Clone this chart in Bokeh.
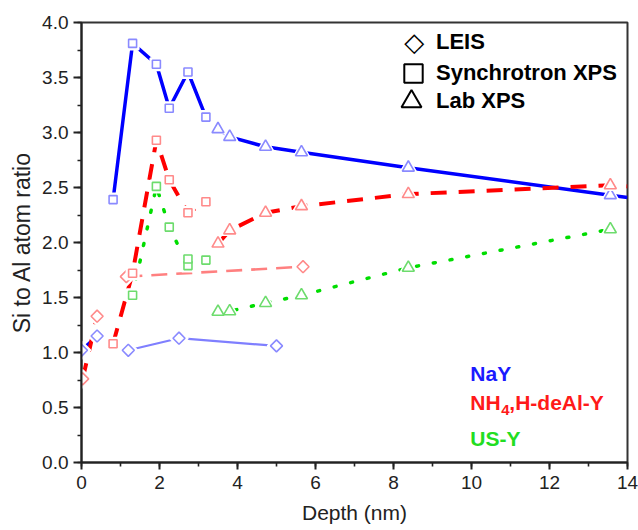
import math
from bokeh.plotting import figure
from bokeh.layouts import row
from bokeh.models import (Label, Legend, LegendItem, SingleIntervalTicker,
                          PrintfTickFormatter, Range1d, Spacer)
from bokeh.embed import file_html
from bokeh.resources import INLINE

# ---------------- data ----------------
# NaY
nay_leis1_x = [0.0, 0.4]
nay_leis1_y = [1.02, 1.15]
nay_leis2_x = [1.2, 2.5, 5.0]
nay_leis2_y = [1.02, 1.13, 1.06]
nay_sxps_x = [0.81, 1.31, 1.92, 2.25, 2.73, 3.19]
nay_sxps_y = [2.39, 3.81, 3.62, 3.22, 3.55, 3.14]
nay_lxps_x = [3.5, 3.8, 4.72, 5.64, 8.38, 13.56]
nay_lxps_y = [3.03, 2.96, 2.87, 2.82, 2.68, 2.43]
nay_line_end_x = [14.0]
nay_line_end_y = [2.41]

# NH4,H-deAl-Y
nh4_leis1_x = [0.03, 0.4]
nh4_leis1_y = [0.76, 1.33]
nh4_leis2_x = [1.15, 5.68]
nh4_leis2_y = [1.69, 1.78]
nh4_sxps_x = [0.81, 1.31, 1.92, 2.25, 2.73, 3.19]
nh4_sxps_y = [1.08, 1.72, 2.93, 2.57, 2.27, 2.37]
nh4_lxps_x = [3.5, 3.8, 4.72, 5.64, 8.38, 13.56]
nh4_lxps_y = [1.99, 2.11, 2.27, 2.33, 2.44, 2.52]
nh4_line_end_x = [14.0]
nh4_line_end_y = [2.51]

# US-Y
usy_sxps_x = [1.31, 1.92, 2.25, 2.73, 2.73, 3.19]
usy_sxps_y = [1.52, 2.51, 2.14, 1.79, 1.85, 1.84]
usy_lxps_x = [3.5, 3.8, 4.72, 5.64, 8.38, 13.56]
usy_lxps_y = [1.37, 1.375, 1.45, 1.52, 1.77, 2.12]

x_ticks_interval = 2
y_ticks_interval = 0.5

FONT = "Liberation Sans"

BLUE = "#0000ff"
RED = "#ff0000"
GREEN = "#00dd00"
LBLUE = "#7f7fff"
LRED = "#ff8080"
MBLUE = "#8a8aff"
MRED = "#ff8a8a"
MGREEN = "#6ddc6d"

p = figure(width=632, height=528, output_backend="svg", toolbar_location=None,
           x_range=Range1d(0, 14), y_range=Range1d(0, 4.0),
           min_border_left=75, min_border_right=11, min_border_top=22,
           min_border_bottom=66)
p.grid.visible = False
p.background_fill_color = "white"
p.border_fill_color = "white"
p.outline_line_color = "#333333"
p.outline_line_width = 2

# ---------------- lines ----------------
# NaY
p.line(nay_leis1_x, nay_leis1_y, line_color=BLUE, line_width=3.5)
p.line(nay_leis2_x, nay_leis2_y, line_color=LBLUE, line_width=2.2)
p.line(nay_sxps_x, nay_sxps_y, line_color=BLUE, line_width=3.5)
p.line(nay_lxps_x + nay_line_end_x, nay_lxps_y + nay_line_end_y,
       line_color=BLUE, line_width=3.5)
# NH4
p.line(nh4_leis1_x, nh4_leis1_y, line_color=RED, line_width=4, line_dash="16 12")
p.line(nh4_leis2_x, nh4_leis2_y, line_color=LRED, line_width=2.6, line_dash="16 9")
p.line(nh4_sxps_x, nh4_sxps_y, line_color=RED, line_width=4, line_dash="16 12")
p.line(nh4_lxps_x + nh4_line_end_x, nh4_lxps_y + nh4_line_end_y,
       line_color=RED, line_width=4, line_dash="16 12")
# US-Y
p.line(usy_sxps_x, usy_sxps_y, line_color=GREEN, line_width=3.5,
       line_dash="2 15", line_cap="round")
p.line(usy_lxps_x, usy_lxps_y, line_color=GREEN, line_width=3.5,
       line_dash="2 15", line_cap="round")

# ---------------- markers ----------------
DIAM_ANGLE = math.pi / 4


def markers(xs, ys, marker, color, size, angle=0.0):
    # white halo so that the lines stop short of the symbols
    p.scatter(xs, ys, marker=marker, size=size + 4, angle=angle,
              fill_color="white", line_color="white", line_width=2)
    p.scatter(xs, ys, marker=marker, size=size, angle=angle,
              fill_color="white", line_color=color, line_width=1.6)


markers(nay_leis1_x, nay_leis1_y, "square", MBLUE, 8.5, DIAM_ANGLE)
markers(nay_leis2_x, nay_leis2_y, "square", MBLUE, 8.5, DIAM_ANGLE)
markers(nh4_leis1_x, nh4_leis1_y, "square", MRED, 8.5, DIAM_ANGLE)
markers(nh4_leis2_x, nh4_leis2_y, "square", MRED, 8.5, DIAM_ANGLE)

markers(nay_sxps_x, nay_sxps_y, "square", MBLUE, 8)
markers(nh4_sxps_x, nh4_sxps_y, "square", MRED, 8)
markers(usy_sxps_x, usy_sxps_y, "square", MGREEN, 8)

markers(nay_lxps_x, nay_lxps_y, "triangle", MBLUE, 12)
markers(nh4_lxps_x, nh4_lxps_y, "triangle", MRED, 12)
markers(usy_lxps_x, usy_lxps_y, "triangle", MGREEN, 12)

# ---------------- axes ----------------
xa = p.xaxis[0]
ya = p.yaxis[0]
xa.ticker = SingleIntervalTicker(interval=x_ticks_interval, num_minor_ticks=2)
ya.ticker = SingleIntervalTicker(interval=y_ticks_interval, num_minor_ticks=2)
ya.formatter = PrintfTickFormatter(format="%.1f")

for ax in (xa, ya):
    ax.axis_line_color = "#222222"
    ax.axis_line_width = 2
    ax.major_tick_line_color = "#222222"
    ax.major_tick_line_width = 2
    ax.minor_tick_line_color = "#222222"
    ax.minor_tick_line_width = 1.6
    ax.major_tick_in = 0
    ax.minor_tick_in = 0
    ax.major_label_text_font = FONT
    ax.major_label_text_font_size = "19px"
    ax.major_label_text_color = "#222222"
    ax.axis_label_text_font = FONT
    ax.axis_label_text_font_style = "normal"
    ax.axis_label_text_color = "#222222"

xa.major_tick_out = 7
xa.minor_tick_out = 4
xa.major_label_standoff = 6
xa.axis_label = "Depth (nm)"
xa.axis_label_text_font_size = "21px"
xa.axis_label_standoff = 9

ya.major_tick_out = 8
ya.minor_tick_out = 4
ya.major_label_standoff = 5
ya.axis_label = "Si to Al atom ratio"
ya.axis_label_text_font_size = "23px"
ya.axis_label_standoff = 4

# ---------------- symbol legend (black hollow symbols) ----------------
# The legend renderers hold a single NaN point, so nothing of them is drawn
# in the plot; they only provide the black legend symbols.
NAN = float("nan")
# (label, marker, glyph box, left offset, bottom offset, standoff)
leg_specs = [
    ("LEIS", None, 36, 316, 402, 3),
    ("Synchrotron XPS", "square", 46, 309, 366, 0),
    ("Lab XPS", "triangle", 50, 305, 336, 0),
]
for label, marker, gsize, lx, ly, standoff in leg_specs:
    if marker is None:
        # the diamond symbol is drawn as a text glyph below
        r = p.scatter(x=[], y=[], marker="square", fill_color=None,
                      line_color="black", line_width=2)
    else:
        r = p.scatter(x=[NAN], y=[NAN], marker=marker,
                      fill_color=None, line_color="black", line_width=2)
    leg = Legend(items=[LegendItem(label=label, renderers=[r])],
                 location=(lx, ly), glyph_width=gsize, glyph_height=gsize,
                 label_standoff=standoff, padding=0, margin=0, spacing=0,
                 border_line_color=None, background_fill_alpha=0,
                 label_text_font=FONT, label_text_font_style="bold",
                 label_text_font_size="22px", label_text_color="black")
    p.add_layout(leg)

p.add_layout(Label(x=8.53, y=3.82, text="\u25c7", text_align="center",
                   text_baseline="middle", text_font="DejaVu Sans",
                   text_font_style="bold", text_font_size="26px",
                   text_color="black"))

# ---------------- sample labels ----------------
lab_kw = dict(text_font=FONT, text_font_style="bold", text_baseline="middle",
              text_align="left")
p.add_layout(Label(x=9.97, y=0.81, text="NaY", text_color="#1a1aff",
                   text_font_size="21px", **lab_kw))
p.add_layout(Label(x=9.97, y=0.55, text="NH", text_color="#ff1a1a",
                   text_font_size="21px", **lab_kw))
p.add_layout(Label(x=9.97, y=0.55, x_offset=31, y_offset=-8, text="4",
                   text_color="#ff1a1a", text_font_size="15px", **lab_kw))
p.add_layout(Label(x=9.97, y=0.55, x_offset=39, text=",H-deAl-Y",
                   text_color="#ff1a1a", text_font_size="21px", **lab_kw))
p.add_layout(Label(x=9.97, y=0.22, text="US-Y", text_color="#22dd22",
                   text_font_size="21px", **lab_kw))

layout = row(Spacer(width=6, height=528), p)
open("out.html", "w").write(file_html(layout, INLINE))
